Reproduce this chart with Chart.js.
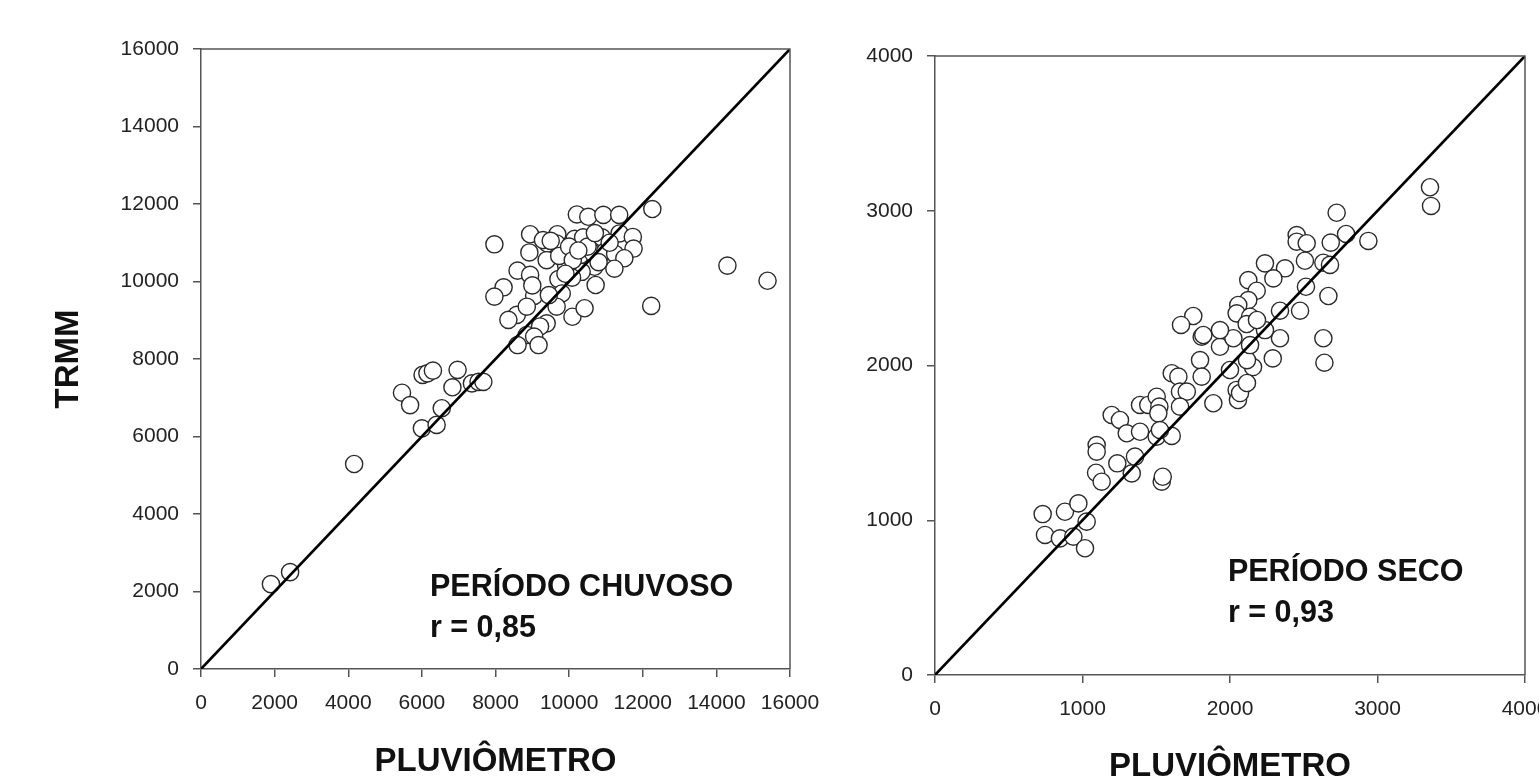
<!DOCTYPE html>
<html><head><meta charset="utf-8">
<script src="https://cdn.jsdelivr.net/npm/chart.js@4/dist/chart.umd.min.js"></script>
<style>
html,body{margin:0;padding:0;background:#fff;overflow:hidden;width:1539px;height:782px;position:relative;}
#c1{position:absolute;left:0;top:0;width:850px;height:800px;}
#c2{position:absolute;left:835px;top:0;width:735px;height:800px;}
</style></head><body>
<canvas id="c1" width="850" height="800"></canvas>
<canvas id="c2" width="735" height="800"></canvas>
<script>
// ---------- DATA ----------
const xTitle = 'PLUVIÔMETRO';
const yTitle = 'TRMM';
const chuvosoLabel = ['PERÍODO CHUVOSO', 'r = 0,85'];
const secoLabel = ['PERÍODO SECO', 'r = 0,93'];

const chuvosoX = [1900,2420,4160,5460,5680,6000,6020,6150,6300,6400,6540,6830,6970,7360,7540,7670,
 7970,10210,10520,10930,11360,12260,
 8940,9680,10150,10380,10890,11370,11730,11750,
 8920,9410,9660,9390,9920,9730,10300,10660,10980,11250,11500,11230,10690,10340,
 8600,8940,9710,10080,10720,
 8220,7970,9050,9800,
 8580,8350,8850,9660,10090,10420,
 9390,9210,8850,9050,8600,9170,
 12230,14300,15390,
 9290,10000,10500,9500,10100,9000,9900,11100,10700,9450,10250,10800];
const chuvosoY = [2190,2500,5290,7130,6810,6210,7590,7630,7700,6300,6730,7270,7720,7370,7410,7410,
 10960,11730,11670,11720,11720,11870,
 11220,11220,11100,11140,11140,11240,11150,10850,
 10750,10980,10980,10550,10400,10660,10680,10720,10770,10710,10600,10330,10380,10250,
 10280,10170,10060,10100,9910,
 9850,9610,9630,9690,
 9140,9010,9350,9350,9090,9310,
 8920,8840,8620,8580,8360,8360,
 9370,10410,10020,
 11070,10900,10900,11050,10550,9900,10200,11000,11250,9650,10800,10500];

const secoX = [730,746,847,938,1017,1028,881,972,
 1096,1096,1092,1130,1236,1334,1356,1198,1254,1300,1390,1446,1503,1521,1514,1390,1503,1605,1525,1537,1544,
 1605,1650,1661,1707,1661,1808,1932,1797,1808,1887,2023,2045,2000,
 2723,2938,2787,2683,2452,2452,2520,2508,2633,2678,2515,2667,2475,2339,2237,2373,2294,2124,2181,2124,2056,
 1751,1668,2045,2136,2113,1932,1819,2339,2633,3356,3363,2640,
 2290,2054,2068,2156,2115,2115,2136,2237,2183];
const secoY = [1040,905,883,894,819,991,1055,1109,
 1486,1443,1307,1249,1368,1303,1411,1680,1648,1562,1745,1745,1798,1734,1691,1572,1540,1545,1583,1249,1281,
 1950,1928,1831,1831,1734,2186,2121,2035,1928,1756,2176,1842,1971,
 2987,2805,2850,2794,2843,2800,2790,2677,2664,2650,2509,2449,2354,2354,2660,2628,2563,2552,2483,2423,2391,
 2320,2262,2337,2315,2268,2229,2197,2176,2176,3152,3031,2018,
 2046,1777,1822,1990,2035,1887,2132,2229,2294];

const chuvosoTicks = [0,2000,4000,6000,8000,10000,12000,14000,16000];
const secoTicks = [0,1000,2000,3000,4000];

// ---------- HELPERS ----------
const FONT = '"Liberation Sans", Arial, sans-serif';
const pts = (xs, ys) => xs.map((x, i) => ({x, y: ys[i]}));

const framePlugin = {
  id: 'frame',
  afterDatasetsDraw(chart, args, opts) {
    const {ctx, chartArea: a, scales: {x, y}} = chart;
    ctx.save();
    ctx.strokeStyle = '#555';
    ctx.lineWidth = 1.5;
    ctx.beginPath();
    ctx.moveTo(a.left, a.top); ctx.lineTo(a.right, a.top); ctx.lineTo(a.right, a.bottom);
    ctx.stroke();
    ctx.font = 'bold ' + opts.size + 'px ' + FONT;
    ctx.fillStyle = '#111';
    ctx.textAlign = 'left';
    ctx.textBaseline = 'middle';
    opts.lines.forEach(l => ctx.fillText(l.text, x.getPixelForValue(l.x), y.getPixelForValue(l.y)));
    ctx.restore();
  }
};

function makeChart(id, xs, ys, ticks, opt) {
  const max = ticks[ticks.length - 1];
  const step = ticks[1] - ticks[0];
  const fmt = v => String(v);
  return new Chart(document.getElementById(id), {
    data: {
      datasets: [
        {type: 'line', data: [{x: 0, y: 0}, {x: max, y: max}], borderColor: '#000', borderWidth: 2.6,
         pointRadius: 0, order: 0},
        {type: 'scatter', data: pts(xs, ys), pointStyle: 'circle', pointRadius: 8.6,
         borderColor: '#2a2a2a', borderWidth: 1.4, backgroundColor: '#fff', order: 1}
      ]
    },
    plugins: [framePlugin],
    options: {
      responsive: false, animation: false,
      layout: {padding: opt.padding},
      plugins: {legend: {display: false}, tooltip: {enabled: false},
        frame: {lines: opt.lines, size: 30.5}},
      scales: {
        x: {type: 'linear', min: 0, max: max,
          ticks: {stepSize: step, color: '#222', padding: 14, font: {family: FONT, size: 21}, callback: fmt},
          grid: {drawOnChartArea: false, tickLength: 8, color: '#555', lineWidth: 1.5},
          border: {color: '#555', width: 1.5},
          title: {display: true, text: xTitle, color: '#111', font: {family: FONT, size: 33, weight: 'bold'},
            padding: {top: 0, bottom: opt.xTitlePad}},
          afterFit: s => { s.height = opt.xHeight; }
        },
        y: {type: 'linear', min: 0, max: max,
          ticks: {stepSize: step, color: '#222', padding: 14, font: {family: FONT, size: 21}, callback: fmt},
          grid: {drawOnChartArea: false, tickLength: 8, color: '#555', lineWidth: 1.5},
          border: {color: '#555', width: 1.5},
          title: {display: opt.yTitle, text: yTitle, color: '#111', font: {family: FONT, size: 33, weight: 'bold'},
            padding: {top: 49, bottom: 0}},
          afterFit: s => { s.width = opt.yWidth; }
        }
      }
    }
  });
}

makeChart('c1', chuvosoX, chuvosoY, chuvosoTicks, {
  padding: {left: 0, top: 49, right: 60, bottom: 0},
  xHeight: 131, yWidth: 201, xTitlePad: 18, yTitle: true,
  lines: [{text: chuvosoLabel[0], x: 6220, y: 2110}, {text: chuvosoLabel[1], x: 6220, y: 1040}]
});
makeChart('c2', secoX, secoY, secoTicks, {
  padding: {left: 0, top: 56, right: 45, bottom: 0},
  xHeight: 125, yWidth: 100, xTitlePad: 13, yTitle: false,
  lines: [{text: secoLabel[0], x: 1986, y: 660}, {text: secoLabel[1], x: 1986, y: 395}]
});
</script>
</body></html>
